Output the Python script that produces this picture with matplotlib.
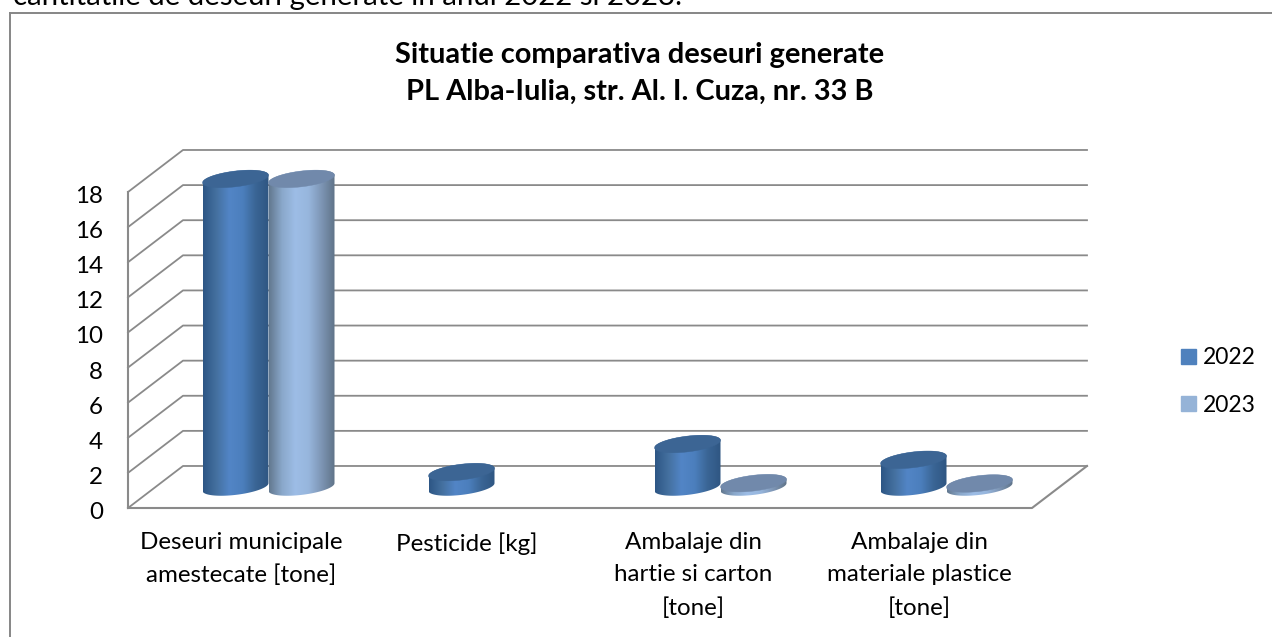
import numpy as np
import matplotlib
matplotlib.use('Agg')
from matplotlib import pyplot as plt
from matplotlib.colors import LinearSegmentedColormap
from matplotlib.patches import Patch, Polygon
from matplotlib.transforms import ScaledTranslation

categories = ['Deseuri municipale\namestecate [tone]', 'Pesticide [kg]',
              'Ambalaje din\nhartie si carton\n[tone]', 'Ambalaje din\nmateriale plastice\n[tone]']
series_names = ['2022', '2023']
values_2022 = [17.55, 0.85, 2.45, 1.55]
values_2023 = [17.55, np.nan, 0.22, 0.2]
y_ticks = list(range(0, 20, 2))

plt.rcParams['font.family'] = ['Lato', 'DejaVu Sans']

GRID = '#8a8a8a'
W, H = 1272, 637
fig = plt.figure(figsize=(W / 100, H / 100), dpi=100)
ax = fig.add_axes([128 / W, 1 - 508 / H, 904 / W, 316 / H])
ax.set_xlim(0, 4)
ax.set_ylim(0, 18)
for s in ax.spines.values():
    s.set_visible(False)
ax.patch.set_alpha(0)

# depth of the fake 3d box, in data units
depth_x = 55 / 226
depth_y = 42 / 17.55

# walls and floor
for v in y_ticks:
    ax.plot([0, depth_x, 4 + depth_x], [v, v + depth_y, v + depth_y], color=GRID, lw=1.3, clip_on=False, zorder=1)
ax.plot([0, 0], [0, 18], color=GRID, lw=1.5, clip_on=False, zorder=1)
ax.plot([0, 4, 4 + depth_x], [0, 0, depth_y], color=GRID, lw=1.5, clip_on=False, zorder=1)

ax.set_yticks(y_ticks)
ax.set_xticks(np.arange(len(categories)) + 0.5)
ax.set_xticklabels(categories, fontsize=17.4, linespacing=1.67, color='black')
ax.tick_params(axis='x', length=0, pad=17.2)
ax.tick_params(axis='y', length=0, pad=18, labelsize=17.4, labelcolor='black')
# y labels sit a little lower than the grid ends
shift = ScaledTranslation(0, -2.5 / 100, fig.dpi_scale_trans)
for tick in ax.yaxis.get_major_ticks():
    tick.label1.set_transform(tick.label1.get_transform() + shift)

bar_w = 66 / 226
ell_b = 7.9 / 17.55
ell_s = 3.8 / 17.55
t = np.linspace(0, 2 * np.pi, 121)

cmaps = [
    LinearSegmentedColormap.from_list('b', ['#2d5685', '#44709f', '#5285c6', '#4c7fbd', '#3a6595', '#2f5682']),
    LinearSegmentedColormap.from_list('l', ['#62788f', '#8aa8cb', '#9dbde6', '#97b6dd', '#7d95b4', '#5f7388']),
]
top_colors = ['#3c6594', '#7189ab']


def draw_cylinder(x, val, cmap, top_color, z):
    a = bar_w / 2
    base = depth_y / 2
    ex = a * np.cos(t)
    ey = ell_b * np.sin(t) + ell_s * np.cos(t)
    lower = t >= np.pi
    upper = t <= np.pi
    side = np.vstack([
        np.column_stack([x + ex[lower], base + ey[lower]]),
        np.column_stack([x + ex[upper], base + val + ey[upper]]),
    ])
    poly = Polygon(side, closed=True, transform=ax.transData, fc='none', ec='none')
    ax.add_patch(poly)
    grad = np.linspace(0, 1, 256).reshape(1, -1)
    im = ax.imshow(grad, cmap=cmap, aspect='auto', interpolation='bilinear', zorder=z,
                   extent=(x - a, x + a, base - 1, base + val + 1))
    # top of the tall bars sticks out of the axes box
    im.set_clip_box(fig.bbox)
    im.set_clip_path(poly)
    ax.fill(x + ex, base + val + ey, color=top_color, lw=0.3, zorder=z + 0.1, clip_on=False)


for i in range(len(categories)):
    cx = i + 0.5 + depth_x / 2
    for j, vals in enumerate([values_2022, values_2023]):
        if np.isnan(vals[i]):
            continue
        draw_cylinder(cx + (j - 0.5) * bar_w, vals[i], cmaps[j], top_colors[j], 3 + j)
ax.set_xlim(0, 4)
ax.set_ylim(0, 18)

fig.suptitle('Situatie comparativa deseuri generate\nPL Alba-Iulia, str. Al. I. Cuza, nr. 33 B',
             x=640 / W, y=1 - 73.5 / H, va='center', fontsize=20.9, fontweight='bold', linespacing=1.52, color='black')

# text of the page above the chart, cut off by the crop
fig.text(13 / W, 1 - 4.5 / H, 'cantitatile de deseuri generate in anul 2022 si 2023.', fontsize=21.2, color='black', va='baseline')

# chart frame, only top and left are inside the crop
frame = dict(color='#868686', lw=1.4, transform=fig.transFigure, clip_on=False)
fig.add_artist(plt.Line2D([9.5 / W, 9.5 / W], [0, 1 - 13 / H], **frame))
fig.add_artist(plt.Line2D([9.5 / W, 1], [1 - 13 / H, 1 - 13 / H], **frame))

handles = [Patch(color='#4f81bd'), Patch(color='#95b3d7')]
fig.legend(handles, series_names, loc='center left', bbox_to_anchor=(1160 / W, 1 - 381.5 / H), frameon=False,
           fontsize=16.5, handlelength=0.65, handleheight=0.65, handletextpad=0.3, labelspacing=1.15, labelcolor='black')

fig.savefig('out.png', dpi=100)
